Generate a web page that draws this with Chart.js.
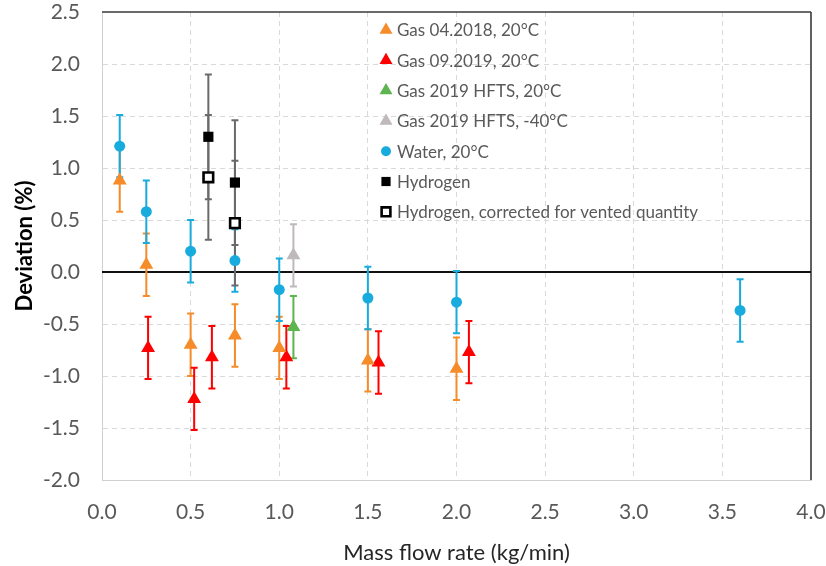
<!DOCTYPE html>
<html><head><meta charset="utf-8">
<script src="https://cdn.jsdelivr.net/npm/chart.js@4/dist/chart.umd.min.js"></script>
<style>html,body{margin:0;padding:0;background:#fff;}canvas{display:block;}</style>
</head><body>
<canvas id="c" width="826" height="566"></canvas>
<script>
// ---------- data ----------
const seriesLabels = [
  "Gas 04.2018, 20°C",
  "Gas 09.2019, 20°C",
  "Gas 2019 HFTS, 20°C",
  "Gas 2019 HFTS, -40°C",
  "Water, 20°C",
  "Hydrogen",
  "Hydrogen, corrected for vented quantity"
];
const xTickLabels = ["0.0","0.5","1.0","1.5","2.0","2.5","3.0","3.5","4.0"];
const yTickLabels = ["-2.0","-1.5","-1.0","-0.5","0.0","0.5","1.0","1.5","2.0","2.5"];

const gas2018X   = [0.10, 0.25, 0.50, 0.75, 1.00, 1.50, 2.00];
const gas2018Y   = [0.88, 0.07, -0.70, -0.61, -0.73, -0.85, -0.93];
const gas2018Err = [0.30, 0.30, 0.30, 0.30, 0.30, 0.30, 0.30];

const gas2019X   = [0.26, 0.52, 0.62, 1.04, 1.56, 2.07];
const gas2019Y   = [-0.73, -1.22, -0.82, -0.82, -0.87, -0.77];
const gas2019Err = [0.30, 0.30, 0.30, 0.30, 0.30, 0.30];

const hfts20X   = [1.08];
const hfts20Y   = [-0.53];
const hfts20Err = [0.30];

const hfts40X   = [1.08];
const hfts40Y   = [0.16];
const hfts40Err = [0.30];

const waterX   = [0.10, 0.25, 0.50, 0.75, 1.00, 1.50, 2.00, 3.60];
const waterY   = [1.21, 0.58, 0.20, 0.11, -0.17, -0.25, -0.29, -0.37];
const waterErr = [0.30, 0.30, 0.30, 0.30, 0.30, 0.30, 0.30, 0.30];

const h2X   = [0.60, 0.75];
const h2Y   = [1.30, 0.86];
const h2Err = [0.60, 0.60];

const h2cX   = [0.60, 0.75];
const h2cY   = [0.91, 0.47];
const h2cErr = [0.60, 0.60];

// ---------- styling ----------
const FONT = "Lato, 'Open Sans', sans-serif";
const TXT = '#595959';
const COL = {orange:'#F68B2A', red:'#FF0000', green:'#5CB54E', grey:'#BFB9B9', blue:'#17ABDE', black:'#000000', hErr:'#6A6A6A'};

const pts = (xs, ys) => xs.map((x, i) => ({x: x, y: ys[i]}));

function ds(label, xs, ys, errs, style, color, radius, errColor, extra) {
  return Object.assign({
    label: label,
    data: pts(xs, ys),
    errors: errs,
    errColor: errColor,
    showLine: false,
    pointStyle: style,
    pointRadius: radius,
    pointHoverRadius: radius,
    pointBackgroundColor: color,
    pointBorderColor: color,
    pointBorderWidth: 0,
    legendRadius: radius
  }, extra || {});
}

const datasets = [
  ds(seriesLabels[0], gas2018X, gas2018Y, gas2018Err, 'triangle', COL.orange, 8, COL.orange, {legendRadius: 7.5}),
  ds(seriesLabels[1], gas2019X, gas2019Y, gas2019Err, 'triangle', COL.red, 8, COL.red, {legendRadius: 7.5}),
  ds(seriesLabels[2], hfts20X, hfts20Y, hfts20Err, 'triangle', COL.green, 8, COL.green, {legendRadius: 7.5}),
  ds(seriesLabels[3], hfts40X, hfts40Y, hfts40Err, 'triangle', COL.grey, 8, COL.grey, {legendRadius: 7.5}),
  ds(seriesLabels[4], waterX, waterY, waterErr, 'circle', COL.blue, 5.5, COL.blue, {legendRadius: 5}),
  ds(seriesLabels[5], h2X, h2Y, h2Err, 'rect', COL.black, 7.2, COL.hErr, {legendRadius: 6.5}),
  ds(seriesLabels[6], h2cX, h2cY, h2cErr, 'rect', COL.black, 6.8, COL.hErr,
     {pointBackgroundColor:'#ffffff', pointBorderWidth: 2.6, legendRadius: 6.2})
];

// ---------- plugins ----------
const bgPlugin = {
  id: 'bg',
  beforeDraw(chart) {
    const c = chart.ctx; c.save(); c.fillStyle = '#fff';
    c.fillRect(0, 0, chart.width, chart.height); c.restore();
  }
};

const errPlugin = {
  id: 'errbars',
  beforeDatasetsDraw(chart) {
    const c = chart.ctx, a = chart.chartArea, xs = chart.scales.x, ys = chart.scales.y;
    c.save();
    c.lineCap = 'butt';
    c.strokeStyle = '#3a3a3a'; c.lineWidth = 1.6;
    c.beginPath(); c.moveTo(a.left, a.top); c.lineTo(a.right, a.top);
    c.moveTo(a.right, a.top); c.lineTo(a.right, a.bottom); c.stroke();
    const y0 = ys.getPixelForValue(0);
    c.strokeStyle = '#111'; c.lineWidth = 1.8;
    c.beginPath(); c.moveTo(a.left, y0); c.lineTo(a.right, y0); c.stroke();
    const cap = 3.5;
    chart.data.datasets.forEach(d => {
      c.strokeStyle = d.errColor; c.lineWidth = 2;
      d.data.forEach((p, i) => {
        const e = d.errors[i];
        const px = xs.getPixelForValue(p.x);
        const yt = ys.getPixelForValue(p.y + e), yb = ys.getPixelForValue(p.y - e);
        c.beginPath();
        c.moveTo(px, yt); c.lineTo(px, yb);
        c.moveTo(px - cap, yt); c.lineTo(px + cap, yt);
        c.moveTo(px - cap, yb); c.lineTo(px + cap, yb);
        c.stroke();
      });
    });
    c.restore();
  }
};

const LEG = {x: 386, textX: 397, y0: 30, dy: 30.3, size: 17};
const legendPlugin = {
  id: 'customLegend',
  afterDraw(chart) {
    const c = chart.ctx;
    c.save();
    chart.data.datasets.forEach((d, i) => {
      const cy = LEG.y0 + i * LEG.dy;
      c.fillStyle = d.pointBackgroundColor;
      c.strokeStyle = d.pointBorderColor;
      c.lineWidth = d.pointBorderWidth;
      Chart.helpers.drawPoint(c, {pointStyle: d.pointStyle, radius: d.legendRadius, rotation: 0,
        borderWidth: d.pointBorderWidth}, LEG.x, cy);
      c.fillStyle = TXT;
      c.font = LEG.size + 'px ' + FONT;
      c.textBaseline = 'middle';
      c.textAlign = 'left';
      c.fillText(d.label, LEG.textX, cy + 1);
    });
    c.restore();
  }
};

// ---------- chart ----------
const clear = 'rgba(0,0,0,0)';
new Chart(document.getElementById('c'), {
  type: 'scatter',
  data: {datasets: datasets},
  plugins: [bgPlugin, errPlugin, legendPlugin],
  options: {
    responsive: false,
    animation: false,
    devicePixelRatio: 1,
    layout: {padding: {top: 12, right: 15, left: 0, bottom: 0}},
    plugins: {legend: {display: false}, tooltip: {enabled: false}},
    scales: {
      x: {
        type: 'linear', min: 0, max: 4,
        afterFit(s) { s.height = 86; s.paddingLeft = 0; s.paddingRight = 0; },
        ticks: {stepSize: 0.5, color: TXT, font: {family: FONT, size: 21}, padding: 20,
          callback: (v) => xTickLabels[Math.round(v / 0.5)]},
        grid: {drawTicks: false, lineWidth: 1,
          color: (ctx) => (ctx.tick && (ctx.tick.value === 0 || ctx.tick.value === 4)) ? clear : '#D9D9D9'},
        border: {display: true, color: '#D0D0D0', width: 1, dash: [5, 4]},
        title: {display: true, text: 'Mass flow rate (kg/min)', color: '#262626',
          font: {family: FONT, size: 22}, padding: {top: 0, bottom: 0}}
      },
      y: {
        type: 'linear', min: -2, max: 2.5,
        afterFit(s) { s.width = 102; s.paddingTop = 0; s.paddingBottom = 0; },
        ticks: {stepSize: 0.5, color: TXT, font: {family: FONT, size: 21}, padding: 22,
          callback: (v) => yTickLabels[Math.round((v + 2) / 0.5)]},
        grid: {drawTicks: false, lineWidth: 1,
          color: (ctx) => (ctx.tick && (Math.abs(ctx.tick.value) < 1e-9 || ctx.tick.value === 2.5 || ctx.tick.value === -2)) ? clear : '#D9D9D9'},
        border: {display: true, color: '#D0D0D0', width: 1, dash: [5, 4]},
        title: {display: true, text: 'Deviation (%)', color: '#000',
          font: {family: FONT, size: 22, weight: 'bold'}, padding: {top: 12, bottom: 0}}
      }
    }
  }
});
</script>
</body></html>
